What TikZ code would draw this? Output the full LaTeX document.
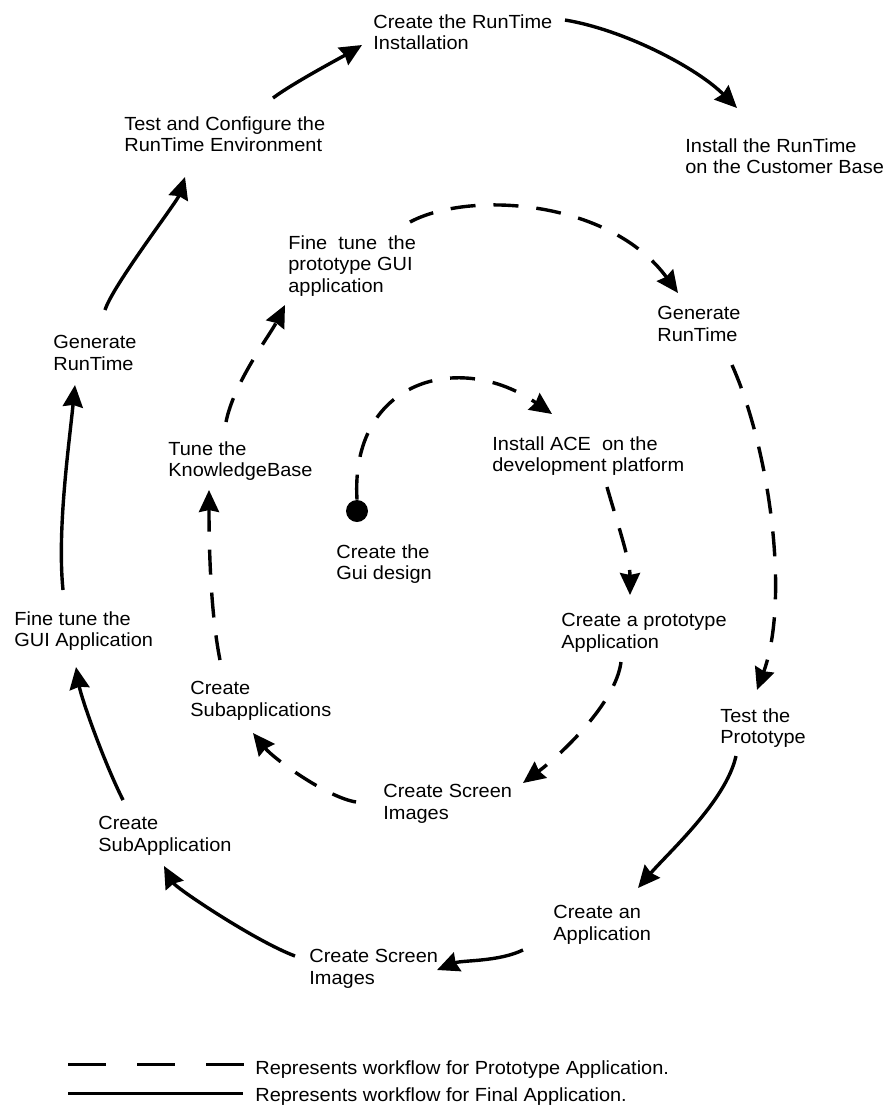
\documentclass[tikz,border=0pt]{standalone}
\usepackage{fontspec}
\setmainfont[FakeStretch=1.05]{Liberation Sans}
\usetikzlibrary{arrows.meta}
\tikzset{>={Stealth[length=11pt,width=10pt,inset=1pt]},
  lbl/.style={anchor=north west, inner sep=0pt, align=left, font=\fontsize{9.5}{10.75}\selectfont},
  final/.style={->, line width=1.7pt},
  proto/.style={final, dash pattern=on 12.5pt off 9pt}}

\begin{document}
\begin{tikzpicture}[x=0.5pt, y=-0.5pt]
\useasboundingbox (0,0) rectangle (885,1105);
\node[lbl] (inst) at (373,14) {Create the RunTime\\Installation};
\node[lbl] (testcfg) at (124,116) {Test and Configure the\\RunTime Environment};
\node[lbl] (deploy) at (685,138) {Install the RunTime\\on the Customer Base};
\node[lbl] (finep) at (288,235) {Fine~ tune~ the\\prototype GUI\\application};
\node[lbl] (genr) at (657,306) {Generate\\RunTime};
\node[lbl] (genl) at (53,335) {Generate\\RunTime};
\node[lbl] (tunekb) at (168,441) {Tune the\\KnowledgeBase};
\node[lbl] (ace) at (492,436) {Install ACE~ on the\\development platform};
\node[circle, fill, inner sep=0pt, minimum size=11pt] (dot) at (357,511) {};
\node[lbl] (gui) at (336,544) {Create the\\Gui design};
\node[lbl] (proto) at (561,613) {Create a prototype\\Application};
\node[lbl] (finef) at (14,611) {Fine tune the\\GUI Application};
\node[lbl] (subp) at (190,681) {Create\\Subapplications};
\node[lbl] (testp) at (720,708) {Test the\\Prototype};
\node[lbl] (scrp) at (383,784) {Create Screen\\Images};
\node[lbl] (subf) at (98,816) {Create\\SubApplication};
\node[lbl] (app) at (553,905) {Create an\\Application};
\node[lbl] (scrf) at (309,949) {Create Screen\\Images};

\draw[proto] (dot.north) .. controls +(-7,-120) and +(-92,-64) .. ([shift={(60,-22)}]ace.north west);
\draw[proto] ([shift={(115,51)}]ace.north west) .. controls +(10,35) and +(0,-35) .. ([shift={(69,-18)}]proto.north west);
\draw[proto] ([shift={(60,49)}]proto.north west) .. controls +(-5,40) and +(40,-30) .. ([shift={(140,-1)}]scrp.north west);
\draw[proto] ([shift={(-27,18)}]scrp.north west) .. controls +(-30,-5) and +(20,25) .. ([shift={(63,52)}]subp.north west);
\draw[proto] ([shift={(30,-21)}]subp.north west) .. controls +(-10,-50) and +(0,50) .. ([shift={(41,49)}]tunekb.north west);
\draw[proto] ([shift={(58,-19)}]tunekb.north west) .. controls +(8,-40) and +(-15,30) .. ([shift={(-3,70)}]finep.north west);
\draw[proto] ([shift={(122,-13)}]finep.north west) .. controls +(60,-32) and +(-68,-93) .. ([shift={(21,-13)}]genr.north west);
\draw[proto] ([shift={(75,59)}]genr.north west) .. controls +(38,85) and +(33,-90) .. ([shift={(37,-18)}]testp.north west);

\draw[final] ([shift={(16,48)}]testp.north west) .. controls +(-10,45) and +(30,-35) .. ([shift={(85,-17)}]app.north west);
\draw[final] ([shift={(-30,45)}]app.north west) .. controls +(-25,12) and +(25,-10) .. ([shift={(128,21)}]scrf.north west);
\draw[final] ([shift={(-14,7)}]scrf.north west) .. controls +(-40,-15) and +(12,22) .. ([shift={(66,50)}]subf.north west);
\draw[final] ([shift={(25,-16)}]subf.north west) .. controls +(-20,-40) and +(5,30) .. ([shift={(62,56)}]finef.north west);
\draw[final] ([shift={(49,-21)}]finef.north west) .. controls +(-6,-60) and +(-6,60) .. ([shift={(22,50)}]genl.north west);
\draw[final] ([shift={(52,-25)}]genl.north west) .. controls +(8,-25) and +(-8,25) .. ([shift={(61,61)}]testcfg.north west);
\draw[final] ([shift={(149,-18)}]testcfg.north west) .. controls +(20,-15) and +(-20,12) .. ([shift={(-11,31)}]inst.north west);
\draw[final] ([shift={(192,6)}]inst.north west) .. controls +(60,10) and +(-40,-40) .. ([shift={(52,-30)}]deploy.north west);

\node[lbl] (legp) at (255,1060) {Represents workflow for Prototype Application.};
\node[lbl] (legf) at (255,1087) {Represents workflow for Final Application.};
\draw[line width=1.5pt, dash pattern=on 19pt off 15.5pt] ([shift={(-187,4)}]legp.north west) -- ++(177,0);
\draw[line width=1.5pt] ([shift={(-187,6)}]legf.north west) -- ++(175,0);
\end{tikzpicture}
\end{document}
